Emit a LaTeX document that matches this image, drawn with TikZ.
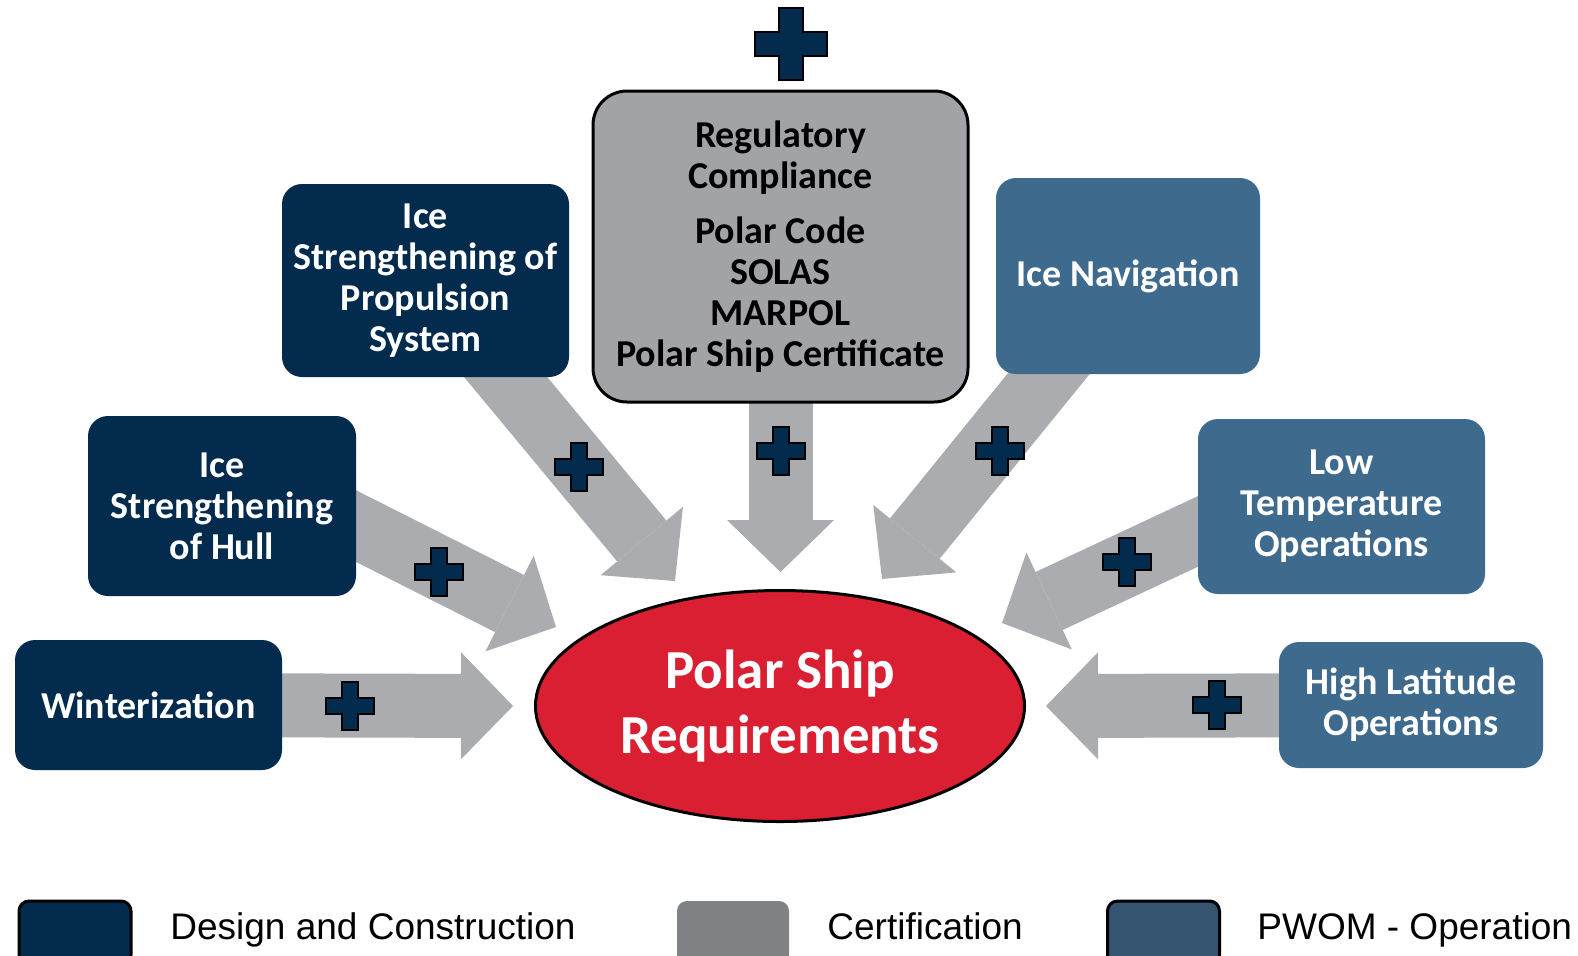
\documentclass[tikz,border=0pt]{standalone}
\usepackage{fontspec}
\setmainfont{Carlito}
\newfontfamily\legendfont{Liberation Sans}
\usetikzlibrary{arrows.meta,shapes.geometric,calc}
\pgfdeclarelayer{background}
\pgfsetlayers{background,main}
\definecolor{navy}{HTML}{032B4E}
\definecolor{steel}{HTML}{3E6A8E}
\definecolor{regray}{HTML}{A2A3A7}
\definecolor{arrowgray}{HTML}{ABACB0}
\definecolor{polarred}{HTML}{DA1F33}
\definecolor{keygray}{HTML}{808386}
\definecolor{keysteel}{HTML}{34546F}

\begin{document}
\begin{tikzpicture}[x=0.5pt,y=-0.5pt]
      \tikzset{
        box/.style={rectangle,rounded corners=10pt,inner sep=0pt,align=center,text=white,
          font=\bfseries\fontsize{19}{20.5}\selectfont},
        navybox/.style={box,fill=navy},
        steelbox/.style={box,fill=steel},
        feed/.style={draw=arrowgray,line width=32pt,
          -{Triangle[width=53.5pt,length=26pt,line width=0pt]}},
        keybox/.style={rectangle,rounded corners=5pt,minimum width=56pt,minimum height=32pt,line width=1.5pt},
        keytext/.style={anchor=base west,inner sep=0pt,font=\legendfont\fontsize{18.5}{20}\selectfont},
        plussign/.pic={\filldraw[fill=navy,draw=black,line width=1pt]
          (-8,-24) -- (8,-24) -- (8,-8) -- (24,-8) -- (24,8) -- (8,8) -- (8,24)
          -- (-8,24) -- (-8,8) -- (-24,8) -- (-24,-8) -- (-8,-8) -- cycle;}
      }
      \useasboundingbox (0,0) rectangle (1578,955);

      \node[ellipse,fill=polarred,draw=black,line width=1.5pt,minimum width=244.5pt,minimum height=115.5pt,
        inner sep=0pt,text=white,align=center,font=\bfseries\fontsize{27.5}{32.5}\selectfont]
        (req) at (780,706) {Polar Ship\\Requirements};

      \node[box,fill=regray,draw=black,line width=1.5pt,rounded corners=17pt,text=black,
        minimum width=187.5pt,minimum height=155.5pt] (reg) at (780.5,246.5)
        {Regulatory\\Compliance\\[7pt]Polar Code\\SOLAS\\MARPOL\\Polar Ship Certificate};
      \node[navybox,minimum width=143.5pt,minimum height=96.5pt] (prop) at (425.5,280.5)
        {Ice\\Strengthening of\\Propulsion\\System};
      \node[navybox,minimum width=134pt,minimum height=90pt] (hull) at (222,506)
        {Ice\\Strengthening\\of Hull};
      \node[navybox,minimum width=133.5pt,minimum height=65pt] (winter) at (148.5,705)
        {Winterization};
      \node[steelbox,minimum width=132pt,minimum height=98pt] (nav) at (1128,276)
        {Ice Navigation};
      \node[steelbox,minimum width=143.5pt,minimum height=87.5pt] (lowt) at (1341.5,506.5)
        {Low\\Temperature\\Operations};
      \node[steelbox,minimum width=132pt,minimum height=63pt] (high) at (1411,705)
        {High Latitude\\Operations};

      \coordinate (twinter) at (513,706);
      \coordinate (thull) at (556,627);
      \coordinate (tprop) at (675,581);
      \coordinate (treg) at (780.5,572);
      \coordinate (tnav) at (882,579);
      \coordinate (tlowt) at (1002,623);
      \coordinate (thigh) at (1046,706);

      \begin{pgfonlayer}{background}
        \draw[feed] (winter.center) -- (twinter);
        \draw[feed] ($(hull.east)+(-54,-7)$) -- (thull);
        \draw[feed] (prop.center) -- (tprop);
        \draw[feed] (reg.center) -- (treg);
        \draw[feed] (nav.center) -- (tnav);
        \draw[feed] ($(lowt.west)+(60,-3)$) -- (tlowt);
        \draw[feed] (high.center) -- (thigh);
      \end{pgfonlayer}

      \pic[scale=1.5] at (791,44) {plussign};
      \pic at (350,706) {plussign};
      \pic at (439,572) {plussign};
      \pic at (579,467) {plussign};
      \pic at (781,451) {plussign};
      \pic at (1000,451) {plussign};
      \pic at (1127,562) {plussign};
      \pic at (1217,705) {plussign};

      \node[keybox,fill=navy,draw=black] (keydesign) at (75,933) {};
      \node[keytext] (txtdesign) at (170,939) {Design and Construction};
      \node[keybox,fill=keygray] (keycert) at (733,933) {};
      \node[keytext] (txtcert) at (827,939) {Certification};
      \node[keybox,fill=keysteel,draw=black] (keypwom) at (1163.5,933) {};
      \node[keytext] (txtpwom) at (1257,939) {PWOM - Operation};
    \end{tikzpicture}
\end{document}
